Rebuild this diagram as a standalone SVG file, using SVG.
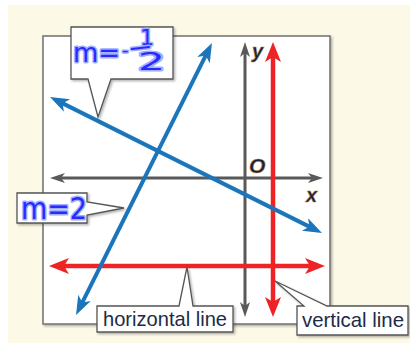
<svg xmlns="http://www.w3.org/2000/svg" width="410" height="343" viewBox="0 0 410 343">
<defs>
<filter id="sh" x="-10%" y="-10%" width="130%" height="130%">
<feDropShadow dx="1.5" dy="1.5" stdDeviation="1" flood-color="#000" flood-opacity="0.3"/>
</filter>
<marker id="ag" markerUnits="userSpaceOnUse" markerWidth="20" markerHeight="14" viewBox="-8 -7 20 14" refX="0" refY="0" orient="auto-start-reverse" overflow="visible">
<path d="M8,0 L-7,-5 L-3,0 L-7,5 Z" fill="#595959"/>
</marker>
<marker id="ar" markerUnits="userSpaceOnUse" markerWidth="24" markerHeight="18" viewBox="-14 -9 24 18" refX="0" refY="0" orient="auto-start-reverse" overflow="visible">
<path d="M8,0 L-12,-8 L-7,0 L-12,8 Z" fill="#ee2326"/>
</marker>
<marker id="ab" markerUnits="userSpaceOnUse" markerWidth="22" markerHeight="16" viewBox="-12 -8 22 16" refX="0" refY="0" orient="auto-start-reverse" overflow="visible">
<path d="M8,0 L-11,-7 L-6,0 L-11,7 Z" fill="#1a75bb"/>
</marker>
</defs>
<style>
.axis{stroke:#595959;stroke-width:3;fill:none}
.red{stroke:#ee2326;stroke-width:4.5;fill:none}
.blue{stroke:#1a75bb;stroke-width:4;fill:none}
.call{fill:#fff;stroke:#555;stroke-width:1.3;filter:url(#sh)}
.lbl{font-family:"Liberation Sans Narrow","Liberation Sans",Arial,sans-serif;font-size:21px;fill:#1d2b48}
.ax{font-family:"Liberation Sans",Arial,sans-serif;font-weight:bold;font-style:italic;font-size:20px;fill:#1a2140;stroke:#b07a30;stroke-width:0.5}
.hw{font-family:"DejaVu Sans",sans-serif;fill:#2a2aff;stroke:#9fb0ff;stroke-width:3;stroke-linejoin:round;paint-order:stroke}
</style>
<rect x="8" y="5" width="402" height="338" fill="#fdf9e7"/>
<rect id="panel" x="43" y="36" width="287" height="288" fill="#fff" stroke="#707070" stroke-width="1.5" filter="url(#sh)"/>
<g id="connectors">
<line class="axis" x1="58" y1="178" x2="315" y2="178" marker-start="url(#ag)" marker-end="url(#ag)"/>
<line class="axis" x1="245" y1="50" x2="245" y2="309" marker-start="url(#ag)" marker-end="url(#ag)"/>
<line class="red" x1="273" y1="50" x2="273" y2="309" marker-start="url(#ar)" marker-end="url(#ar)"/>
<line class="red" x1="57" y1="266" x2="317" y2="266" marker-start="url(#ar)" marker-end="url(#ar)"/>
<line class="blue" x1="57.2" y1="100.6" x2="314.8" y2="229.4" marker-start="url(#ab)" marker-end="url(#ab)"/>
<line class="blue" x1="79.6" y1="307.8" x2="208.4" y2="50.2" marker-start="url(#ab)" marker-end="url(#ab)"/>
</g>
<g id="axis-labels">
<text class="ax" x="252" y="58">y</text>
<text class="ax" x="249" y="173" style="font-size:21px">O</text>
<text class="ax" x="306" y="202">x</text>
</g>
<g id="label-slope-half">
<path class="call" d="M71,27 H173 V79 H111 L98,117 L88,79 H71 Z"/>
<text class="hw" x="73" y="62" font-size="26">m=</text>
<text class="hw" x="122" y="56" font-size="18">-</text>
<text class="hw" x="140" y="45" font-size="22">1</text>
<line x1="132" y1="49" x2="149" y2="47" stroke="#9fb0ff" stroke-width="5" stroke-linecap="round"/>
<line x1="132" y1="49" x2="149" y2="47" stroke="#2a2aff" stroke-width="2.2" stroke-linecap="round"/>
<text class="hw" x="138" y="70" font-size="24" textLength="27" lengthAdjust="spacingAndGlyphs">2</text>
</g>
<g id="label-slope-2">
<path class="call" d="M17,193 H87 V202 L124,208 L87,215 V223 H17 Z"/>
<text class="hw" x="21" y="219" font-size="30" textLength="66" lengthAdjust="spacingAndGlyphs">m=2</text>
</g>
<g id="label-horizontal">
<path class="call" d="M97,306 H179 L187,267 L193,306 H233 V332 H97 Z"/>
<text class="lbl" x="103" y="326" textLength="124" lengthAdjust="spacingAndGlyphs">horizontal line</text>
</g>
<g id="label-vertical">
<path class="call" d="M297,306 H304 L275,281 L327,306 H408 V335 H297 Z"/>
<text class="lbl" x="302" y="327" textLength="102" lengthAdjust="spacingAndGlyphs">vertical line</text>
</g>
</svg>
